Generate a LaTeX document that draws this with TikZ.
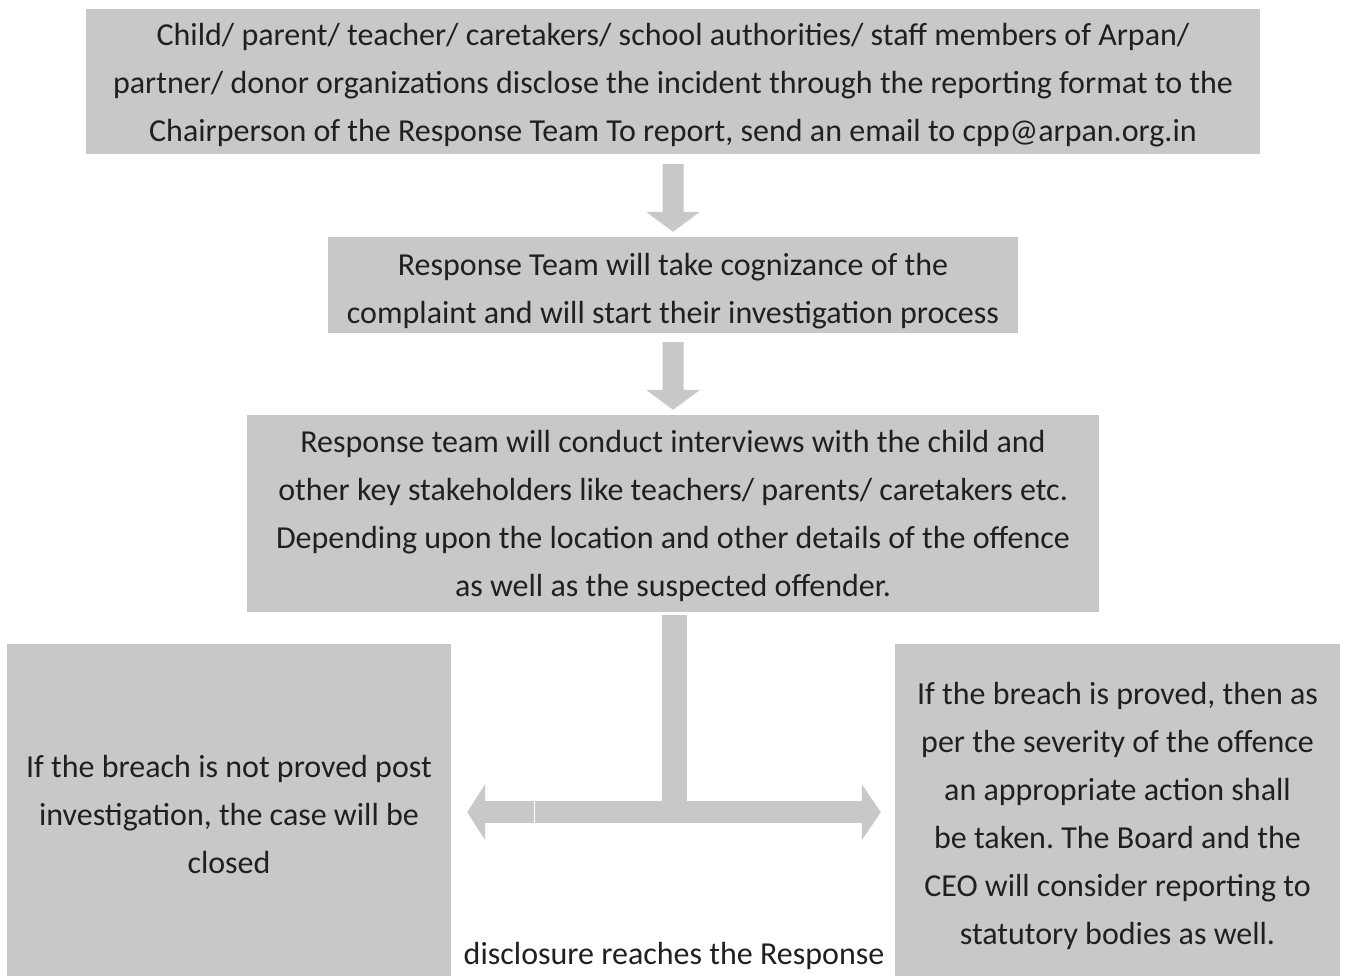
\documentclass[tikz,border=0pt]{standalone}
\usepackage{fontspec}
\setmainfont{Carlito}
\usetikzlibrary{calc}
\definecolor{boxgray}{HTML}{C7C8CA}
\definecolor{txt}{HTML}{231F20}
\tikzset{
  box/.style={fill=boxgray, inner sep=0pt},
  boxtext/.style={inner sep=0pt, align=center, text=txt, font=\fontsize{32}{48}\selectfont\frenchspacing},
  plain/.style={inner sep=0pt, text=txt, font=\fontsize{32}{48}\selectfont},
  blockarrow/.style={fill=boxgray}
}
\begin{document}
\begin{tikzpicture}[x=1pt,y=-1pt]
\useasboundingbox (0,0) rectangle (1346,976);
\node[box, minimum width=1174pt, minimum height=145pt] (b1) at (673,81.5) {};
\node[boxtext] (t1) at ($(b1.center)+(0,4)$)
 {Child/ parent/ teacher/ caretakers/ school authorities/ staff members of Arpan/\\
  partner/ donor organizations disclose the incident through the reporting format to the\\
  Chairperson of the Response Team To report, send an email to cpp@arpan.org.in};
\node[box, minimum width=690pt, minimum height=96pt] (b2) at (673,285) {};
\node[boxtext] (t2) at ($(b2.center)+(0,6)$)
 {Response Team will take cognizance of the\\complaint and will start their investigation process};
\node[box, minimum width=852pt, minimum height=197pt] (b3) at (673,513.5) {};
\node[boxtext] (t3) at ($(b3.center)+(0,2.5)$)
 {Response team will conduct interviews with the child and\\
  other key stakeholders like teachers/ parents/ caretakers etc.\\
  Depending upon the location and other details of the offence\\
  as well as the suspected offender.};
\node[box, minimum width=444pt, minimum height=332pt] (L) at (229,810) {};
\node[boxtext] (tL) at ($(L.center)+(0,4)$)
 {If the breach is not proved post\\investigation, the case will be\\closed};
\node[box, minimum width=445pt, minimum height=332pt] (R) at (1117.5,810) {};
\node[boxtext] (tR) at ($(R.center)+(0,6)$)
 {If the breach is proved, then as\\per the severity of the offence\\an appropriate action shall\\be taken. The Board and the\\CEO will consider reporting to\\statutory bodies as well.};
\node[plain] (note) at (674,956) {disclosure reaches the Response};
% arrow b1 -> b2
\fill[blockarrow] ($(b1.south)+(-10.5,10)$) -- ($(b1.south)+(10.5,10)$)
  -- ($(b2.north)+(10.5,-25)$) -- ($(b2.north)+(27,-25)$) -- ($(b2.north)+(0,-5)$)
  -- ($(b2.north)+(-27,-25)$) -- ($(b2.north)+(-10.5,-25)$) -- cycle;
% arrow b2 -> b3
\fill[blockarrow] ($(b2.south)+(-10.5,9)$) -- ($(b2.south)+(10.5,9)$)
  -- ($(b3.north)+(10.5,-25)$) -- ($(b3.north)+(27,-25)$) -- ($(b3.north)+(0,-5)$)
  -- ($(b3.north)+(-27,-25)$) -- ($(b3.north)+(-10.5,-25)$) -- cycle;
% T connector b3 -> L and R
\coordinate (tj) at ($(b3.south)+(0,200)$);
\fill[blockarrow] ($(b3.south)+(-11,3)$) rectangle ($(tj)+(14,0)$);
\fill[blockarrow] ($(L.east |- tj)+(34,-11)$) rectangle ($(R.west |- tj)+(-33,11)$);
\fill[blockarrow] ($(L.east |- tj)+(16,0)$) -- ($(L.east |- tj)+(34,-28)$) -- ($(L.east |- tj)+(34,28)$) -- cycle;
\fill[blockarrow] ($(R.west |- tj)+(-14,0)$) -- ($(R.west |- tj)+(-33,-28)$) -- ($(R.west |- tj)+(-33,28)$) -- cycle;
\draw[white, line width=1.2pt] ($(L.east |- tj)+(83,-11)$) -- ($(L.east |- tj)+(83,11)$);
\end{tikzpicture}
\end{document}
